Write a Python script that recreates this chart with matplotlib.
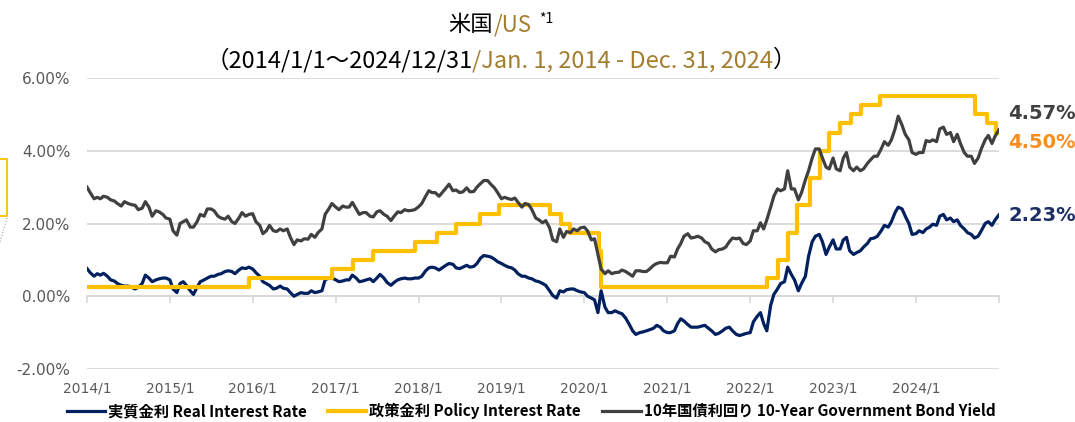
import matplotlib
matplotlib.use("Agg")
import matplotlib.pyplot as plt
import matplotlib.dates as mdates
from matplotlib.font_manager import FontProperties
from matplotlib.patches import Rectangle
from matplotlib.lines import Line2D
import numpy as np
import pandas as pd

plt.rcParams['font.family'] = ['DejaVu Sans']
CJK = ['Noto Sans CJK JP', 'DejaVu Sans']

# ---------------- data (semi-monthly readings: 1st and 15th of each month) ----------------
obs_dates = list(pd.date_range('2014-01-01', '2024-12-15', freq='SMS')) + [pd.Timestamp('2024-12-31')]

# 10-Year Government Bond Yield (%)
bond_yield = (
    [3.00, 2.85, 2.68, 2.72, 2.68, 2.75, 2.72, 2.65, 2.62, 2.55, 2.48, 2.60, 2.55, 2.52, 2.50, 2.38, 2.42, 2.60, 2.45, 2.20, 2.35, 2.32, 2.25, 2.15]  # 2014
  + [2.12, 1.80, 1.68, 2.00, 2.05, 2.10, 1.90, 1.90, 2.05, 2.25, 2.20, 2.40, 2.40, 2.35, 2.20, 2.15, 2.12, 2.20, 2.05, 2.00, 2.15, 2.30, 2.20, 2.25]  # 2015
  + [2.27, 2.05, 1.95, 1.72, 1.80, 1.95, 1.80, 1.78, 1.85, 1.80, 1.85, 1.62, 1.42, 1.55, 1.52, 1.58, 1.57, 1.70, 1.62, 1.75, 1.85, 2.25, 2.40, 2.55]  # 2016
  + [2.45, 2.38, 2.48, 2.45, 2.45, 2.58, 2.40, 2.25, 2.30, 2.30, 2.20, 2.18, 2.32, 2.35, 2.25, 2.20, 2.08, 2.20, 2.32, 2.30, 2.38, 2.35, 2.36, 2.38]  # 2017
  + [2.46, 2.55, 2.75, 2.90, 2.85, 2.85, 2.75, 2.85, 2.97, 3.08, 2.90, 2.92, 2.85, 2.87, 2.98, 2.87, 2.88, 3.00, 3.10, 3.18, 3.18, 3.08, 2.98, 2.85]  # 2018
  + [2.68, 2.72, 2.68, 2.66, 2.70, 2.58, 2.45, 2.55, 2.52, 2.38, 2.15, 2.10, 2.02, 2.08, 1.88, 1.55, 1.50, 1.85, 1.62, 1.78, 1.75, 1.85, 1.80, 1.88]  # 2019
  + [1.90, 1.80, 1.55, 1.58, 1.15, 0.75, 0.62, 0.70, 0.62, 0.65, 0.66, 0.72, 0.68, 0.62, 0.55, 0.70, 0.70, 0.68, 0.68, 0.75, 0.85, 0.90, 0.93, 0.92]  # 2020
  + [0.92, 1.10, 1.08, 1.30, 1.45, 1.65, 1.72, 1.60, 1.62, 1.65, 1.60, 1.50, 1.45, 1.30, 1.22, 1.28, 1.30, 1.35, 1.50, 1.60, 1.58, 1.60, 1.45, 1.42]  # 2021
  + [1.52, 1.80, 1.80, 2.02, 1.85, 2.10, 2.45, 2.75, 2.95, 2.90, 2.95, 3.45, 2.95, 2.95, 2.65, 2.85, 3.20, 3.45, 3.80, 4.05, 4.05, 3.80, 3.55, 3.50]  # 2022
  + [3.80, 3.50, 3.45, 3.80, 3.95, 3.55, 3.45, 3.55, 3.45, 3.50, 3.65, 3.75, 3.85, 3.85, 4.05, 4.25, 4.15, 4.30, 4.60, 4.95, 4.70, 4.45, 4.30, 3.95]  # 2023
  + [3.90, 3.95, 3.95, 4.28, 4.25, 4.30, 4.25, 4.60, 4.65, 4.45, 4.50, 4.25, 4.45, 4.20, 3.95, 3.85, 3.85, 3.65, 3.80, 4.05, 4.30, 4.42, 4.20, 4.40]  # 2024
  + [4.57]
)

# Real Interest Rate (%)
real_rate = (
    [0.76, 0.65, 0.55, 0.62, 0.58, 0.63, 0.55, 0.45, 0.42, 0.35, 0.30, 0.28, 0.28, 0.25, 0.20, 0.25, 0.35, 0.58, 0.50, 0.40, 0.45, 0.48, 0.50, 0.50]  # 2014
  + [0.45, 0.20, 0.10, 0.35, 0.40, 0.30, 0.15, 0.05, 0.25, 0.40, 0.45, 0.50, 0.55, 0.55, 0.60, 0.62, 0.68, 0.70, 0.68, 0.62, 0.72, 0.78, 0.76, 0.80]  # 2015
  + [0.75, 0.65, 0.55, 0.40, 0.35, 0.30, 0.20, 0.22, 0.28, 0.22, 0.20, 0.10, 0.00, 0.05, 0.10, 0.08, 0.08, 0.15, 0.10, 0.12, 0.15, 0.45, 0.50, 0.50]  # 2016
  + [0.45, 0.40, 0.42, 0.45, 0.45, 0.58, 0.50, 0.40, 0.42, 0.45, 0.48, 0.40, 0.50, 0.60, 0.50, 0.38, 0.30, 0.38, 0.45, 0.48, 0.50, 0.48, 0.48, 0.50]  # 2017
  + [0.50, 0.55, 0.70, 0.78, 0.80, 0.78, 0.72, 0.78, 0.85, 0.90, 0.88, 0.78, 0.76, 0.80, 0.85, 0.80, 0.82, 0.90, 1.05, 1.12, 1.10, 1.08, 1.02, 0.95]  # 2018
  + [0.90, 0.85, 0.80, 0.78, 0.72, 0.62, 0.55, 0.55, 0.50, 0.48, 0.42, 0.40, 0.35, 0.30, 0.15, 0.02, -0.05, 0.15, 0.12, 0.18, 0.20, 0.20, 0.15, 0.12]  # 2019
  + [0.10, 0.00, -0.05, -0.10, -0.45, 0.15, -0.30, -0.45, -0.45, -0.40, -0.45, -0.48, -0.60, -0.75, -0.95, -1.05, -1.00, -0.98, -0.95, -0.92, -0.88, -0.80, -0.85, -0.95]  # 2020
  + [-1.00, -1.00, -0.95, -0.75, -0.62, -0.68, -0.78, -0.85, -0.85, -0.85, -0.82, -0.80, -0.88, -0.95, -1.05, -1.02, -0.95, -0.88, -0.85, -0.95, -1.05, -1.08, -1.05, -1.02]  # 2021
  + [-1.00, -0.70, -0.55, -0.45, -0.75, -0.95, -0.25, 0.05, 0.20, 0.35, 0.40, 0.80, 0.60, 0.45, 0.15, 0.35, 0.55, 1.10, 1.50, 1.65, 1.70, 1.50, 1.15, 1.35]  # 2022
  + [1.55, 1.30, 1.30, 1.55, 1.62, 1.25, 1.15, 1.20, 1.25, 1.35, 1.45, 1.58, 1.60, 1.65, 1.80, 1.95, 1.90, 2.05, 2.30, 2.45, 2.40, 2.20, 2.00, 1.70]  # 2023
  + [1.72, 1.80, 1.75, 1.85, 1.90, 1.98, 1.95, 2.20, 2.25, 2.10, 2.15, 2.05, 2.10, 1.95, 1.85, 1.75, 1.70, 1.60, 1.65, 1.80, 2.00, 2.05, 1.95, 2.10]  # 2024
  + [2.23]
)

# Policy Interest Rate (%): change dates and new levels
policy_dates = pd.to_datetime([
    '2014-01-01', '2015-12-17', '2016-12-15', '2017-03-16', '2017-06-15', '2017-12-14',
    '2018-03-22', '2018-06-14', '2018-09-27', '2018-12-20', '2019-08-01', '2019-09-19',
    '2019-10-31', '2020-03-04', '2020-03-16', '2022-03-17', '2022-05-05', '2022-06-16',
    '2022-07-28', '2022-09-22', '2022-11-03', '2022-12-15', '2023-02-02', '2023-03-23',
    '2023-05-04', '2023-07-27', '2024-09-19', '2024-11-08', '2024-12-19', '2024-12-31'])
policy_rate = [0.25, 0.50, 0.75, 1.00, 1.25, 1.50,
               1.75, 2.00, 2.25, 2.50, 2.25, 2.00,
               1.75, 1.25, 0.25, 0.50, 1.00, 1.75,
               2.50, 3.25, 4.00, 4.50, 4.75, 5.00,
               5.25, 5.50, 5.00, 4.75, 4.50, 4.50]

series_labels = ['実質金利 Real Interest Rate', '政策金利 Policy Interest Rate',
                 '10年国債利回り 10-Year Government Bond Yield']
year_ticks = pd.to_datetime([f'{y}-01-01' for y in range(2014, 2026)])
y_ticks = [-2, 0, 2, 4, 6]

assert len(bond_yield) == len(obs_dates) == len(real_rate)

# ---------------- styling ----------------
NAVY = '#002060'
YELLOW = '#ffc000'
GRAY = '#404040'
GOLD = '#a47d2f'
ORANGE = '#fb8c1e'
GRID = '#d9d9d9'
TICKC = '#595959'

W, H = 1075, 422
fig = plt.figure(figsize=(W / 100, H / 100), dpi=100)
ax = fig.add_axes([87 / W, 53 / H, 912 / W, 291 / H])

ax.plot(obs_dates, real_rate, color=NAVY, lw=2.3, label=series_labels[0], zorder=3,
        solid_joinstyle='round')
ax.step(policy_dates, policy_rate, where='post', color=YELLOW, lw=3.0, label=series_labels[1], zorder=4)
ax.plot(obs_dates, bond_yield, color=GRAY, lw=2.3, label=series_labels[2], zorder=5,
        solid_joinstyle='round')

ax.set_xlim(year_ticks[0], year_ticks[-1])
ax.set_ylim(-2, 6)
ax.set_yticks(y_ticks)
ax.set_yticklabels([f'{v:.2f}%' for v in y_ticks])
ax.yaxis.grid(True, color=GRID, lw=1.3)
ax.set_axisbelow(True)
ax.tick_params(axis='y', length=0, pad=12, labelsize=11, labelcolor=TICKC)

for s in ['left', 'right', 'top']:
    ax.spines[s].set_visible(False)
ax.spines['bottom'].set_position(('data', 0))
ax.spines['bottom'].set_color(GRID)
ax.spines['bottom'].set_linewidth(1.3)
ax.set_xticks(year_ticks)
ax.tick_params(axis='x', length=5, width=1.2, color=GRID, direction='out', labelbottom=False)

sec = ax.secondary_xaxis(0.0)
sec.set_xticks(mdates.date2num(year_ticks[:-1]))
sec.set_xticklabels([f'{d.year}/{d.month}' for d in year_ticks[:-1]])
sec.tick_params(length=0, pad=9, labelsize=10, labelcolor=TICKC)
for s in sec.spines.values():
    s.set_visible(False)

# end-value labels
end_x = obs_dates[-1]
ax.annotate(f'{bond_yield[-1]:.2f}%', xy=(end_x, bond_yield[-1]), xytext=(7, 12),
            textcoords='offset points', ha='left', va='center', fontsize=14,
            fontweight='bold', color=GRAY, annotation_clip=False)
ax.annotate(f'{policy_rate[-1]:.2f}%', xy=(end_x, policy_rate[-1]), xytext=(7, -7),
            textcoords='offset points', ha='left', va='center', fontsize=14,
            fontweight='bold', color=ORANGE, annotation_clip=False)
ax.annotate(f'{real_rate[-1]:.2f}%', xy=(end_x, real_rate[-1]), xytext=(7, 0),
            textcoords='offset points', ha='left', va='center', fontsize=14,
            fontweight='bold', color='#1c2f66', annotation_clip=False)

# title with coloured segments
renderer = fig.canvas.get_renderer()


def colored_line(segs, xc_px, base_px, size):
    texts = []
    for s, c in segs:
        t = fig.text(0, 1 - base_px / H, s, color=c, fontsize=size, family=CJK, va='baseline')
        texts.append(t)
    widths = [t.get_window_extent(renderer).width for t in texts]
    x = xc_px - sum(widths) / 2
    for t, w in zip(texts, widths):
        t.set_x(x / W)
        x += w
    return x


end1 = colored_line([('米国', 'black'), ('/US', GOLD)], 490, 31, 16)
fig.text((end1 + 8) / W, 1 - 23 / H, '*1', color='black', fontsize=10, family=CJK, va='baseline')
colored_line([('（2014/1/1～2024/12/31', 'black'), ('/Jan. 1, 2014 - Dec. 31, 2024', GOLD),
              ('）', 'black')], 501, 67, 17)

# legend
fp = FontProperties(family=CJK, weight='bold', size=11)
fig.legend(loc='center', bbox_to_anchor=(531 / W, 1 - 411 / H), ncol=3, frameon=False, prop=fp,
           handlelength=2.5, handletextpad=0.2, columnspacing=1.4, borderaxespad=0)

# partial callout box at left edge
fig.patches.append(Rectangle((-20 / W, 1 - 216 / H), 27 / W, 57 / H, transform=fig.transFigure,
                             fill=False, edgecolor=YELLOW, lw=1.3))
fig.add_artist(Line2D([7 / W, 0], [1 - 218 / H, 1 - 242 / H], transform=fig.transFigure,
                      color='#a0a0a0', lw=0.8, ls=':'))

fig.savefig('out.png', dpi=100)
